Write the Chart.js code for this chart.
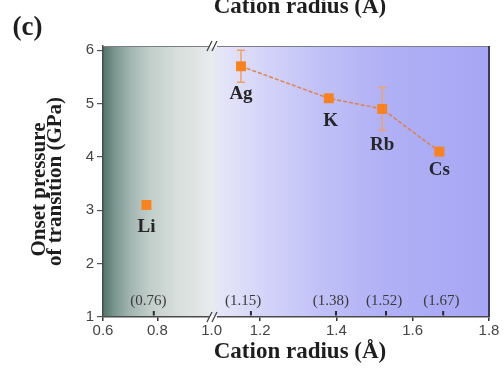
<!DOCTYPE html>
<html>
<head>
<meta charset="utf-8">
<script src="https://cdn.jsdelivr.net/npm/chart.js@4"></script>
<style>
  html, body { margin: 0; padding: 0; background: #ffffff; }
  #wrap { width: 504px; height: 369px; position: relative; }
  canvas { display: block; }
</style>
</head>
<body>
<div id="wrap"><canvas id="c" width="504" height="369"></canvas></div>
<script>
// ---------- data ----------
const elements = ['Li', 'Ag', 'K', 'Rb', 'Cs'];
const cationRadius = [0.76, 1.15, 1.38, 1.52, 1.67];
const onsetPressure = [3.1, 5.7, 5.1, 4.9, 4.1];
const pressureError = [0, 0.3, 0, 0.4, 0];
const radiusLabels = ['(0.76)', '(1.15)', '(1.38)', '(1.52)', '(1.67)'];
const radiusMarkAt = [0.787, 1.176, 1.399, 1.530, 1.680];
const xTickValues = [0.6, 0.8, 1.0, 1.2, 1.4, 1.6, 1.8];
const yTickValues = [1, 2, 3, 4, 5, 6];

// ---------- style ----------
const labelDy = [22, 28, 23, 36, 18];
const labelDx = [0, 0, 2, 0, 0];
const ORANGE = '#f7821e';

// ---------- broken x scale (0.6–1.0 | 1.073–1.8, right part stretched) ----------
const BREAK_LO = 1.0, BREAK_HI = 1.073, STRETCH = 1.405;
function toVirtual(v) { return v <= BREAK_LO ? v : BREAK_LO + (v - BREAK_HI) * STRETCH; }
function fromVirtual(u) { return u <= BREAK_LO ? u : BREAK_HI + (u - BREAK_LO) / STRETCH; }
class BrokenLinearScale extends Chart.LinearScale {
  getPixelForValue(value) {
    if (value === null || value === undefined) return NaN;
    return super.getPixelForValue(toVirtual(value));
  }
  getValueForPixel(pixel) {
    return fromVirtual(super.getValueForPixel(pixel));
  }
}
BrokenLinearScale.id = 'brokenLinear';
BrokenLinearScale.defaults = Chart.LinearScale.defaults;
Chart.register(BrokenLinearScale);

const liPoints = [{ x: cationRadius[0], y: onsetPressure[0] }];
const seriesPoints = cationRadius.slice(1).map((r, i) => ({ x: r, y: onsetPressure[i + 1] }));

const decorPlugin = {
  id: 'decor',
  beforeDraw(chart) {
    const { ctx, chartArea: a } = chart;
    const g = ctx.createLinearGradient(a.left, 0, a.right, 0);
    g.addColorStop(0.00, '#52746b');
    g.addColorStop(0.03, '#7a968f');
    g.addColorStop(0.07, '#a2b5b0');
    g.addColorStop(0.12, '#c0cdc9');
    g.addColorStop(0.19, '#d7dedc');
    g.addColorStop(0.25, '#e2e6e5');
    g.addColorStop(0.28, '#e9ebef');
    g.addColorStop(0.315, '#e3e3f8');
    g.addColorStop(0.41, '#d5d5f9');
    g.addColorStop(0.56, '#c1c1f8');
    g.addColorStop(0.72, '#b1b1f6');
    g.addColorStop(1.00, '#a6a6f4');
    ctx.save();
    ctx.fillStyle = g;
    ctx.fillRect(a.left, a.top, a.right - a.left, a.bottom - a.top);
    ctx.restore();
  },
  beforeDatasetsDraw(chart) {
    const { ctx } = chart;
    const xs = chart.scales.x, ys = chart.scales.y;
    ctx.save();
    ctx.strokeStyle = '#f2a066';
    ctx.lineWidth = 1.5;
    cationRadius.forEach((r, i) => {
      const e = pressureError[i];
      if (!e) return;
      const px = xs.getPixelForValue(r);
      const top = ys.getPixelForValue(onsetPressure[i] + e);
      const bot = ys.getPixelForValue(onsetPressure[i] - e);
      ctx.beginPath();
      ctx.moveTo(px, top); ctx.lineTo(px, bot);
      ctx.moveTo(px - 4, top); ctx.lineTo(px + 4, top);
      ctx.moveTo(px - 4, bot); ctx.lineTo(px + 4, bot);
      ctx.stroke();
    });
    ctx.restore();
  },
  afterDraw(chart) {
    const { ctx, chartArea: a } = chart;
    const xs = chart.scales.x, ys = chart.scales.y;
    ctx.save();
    // frame top / right
    ctx.strokeStyle = '#7d7d86';
    ctx.lineWidth = 1.2;
    ctx.beginPath();
    ctx.moveTo(a.left, a.top + 0.5); ctx.lineTo(a.right, a.top + 0.5);
    ctx.stroke();
    ctx.strokeStyle = '#3b3b58';
    ctx.lineWidth = 2;
    ctx.beginPath();
    ctx.moveTo(a.right, a.top); ctx.lineTo(a.right, a.bottom);
    ctx.stroke();

    // break marks "//"
    const bx = (xs.getPixelForValue(BREAK_LO) + xs.getPixelForValue(1.08)) / 2;
    [a.top, a.bottom].forEach(yy => {
      ctx.fillStyle = '#ffffff';
      ctx.fillRect(bx - 4, yy - 1.5, 8, 3);
      ctx.strokeStyle = '#444444';
      ctx.lineWidth = 1.3;
      ctx.beginPath();
      ctx.moveTo(bx - 6, yy + 5); ctx.lineTo(bx - 1, yy - 5);
      ctx.moveTo(bx - 1, yy + 5); ctx.lineTo(bx + 4, yy - 5);
      ctx.stroke();
    });

    // inner radius marks + labels
    ctx.strokeStyle = '#2a2a2a';
    ctx.lineWidth = 2;
    radiusMarkAt.forEach(r => {
      const px = xs.getPixelForValue(r);
      ctx.beginPath();
      ctx.moveTo(px, a.bottom - 6); ctx.lineTo(px, a.bottom - 1.5);
      ctx.stroke();
    });
    ctx.fillStyle = '#3a3a3a';
    ctx.font = '15px "Liberation Serif", "Times New Roman", serif';
    ctx.textAlign = 'center';
    ctx.textBaseline = 'middle';
    radiusLabels.forEach((t, i) => {
      ctx.fillText(t, xs.getPixelForValue(cationRadius[i]) + 2, a.bottom - 16);
    });

    // element labels
    ctx.fillStyle = '#262626';
    ctx.font = 'bold 19px "Liberation Serif", "Times New Roman", serif';
    elements.forEach((el, i) => {
      const px = xs.getPixelForValue(cationRadius[i]) + labelDx[i];
      const py = ys.getPixelForValue(onsetPressure[i]) + labelDy[i];
      ctx.fillText(el, px, py);
    });

    // axis titles
    ctx.fillStyle = '#1e1e1e';
    ctx.font = 'bold 23px "Liberation Serif", "Times New Roman", serif';
    ctx.textBaseline = 'alphabetic';
    const cx = (a.left + a.right) / 2 + 4;
    ctx.fillText('Cation radius (\u00C5)', cx, 358);
    ctx.fillText('Cation radius (\u00C5)', cx, 13);

    ctx.save();
    ctx.translate(0, (a.top + a.bottom) / 2);
    ctx.rotate(-Math.PI / 2);
    ctx.font = 'bold 21px "Liberation Serif", "Times New Roman", serif';
    ctx.fillText('Onset pressure', -8, 45);
    ctx.fillText('of transition (GPa)', 0, 61);
    ctx.restore();

    // panel label
    ctx.font = 'bold 27px "Liberation Serif", "Times New Roman", serif';
    ctx.textAlign = 'center';
    ctx.fillText('(c)', 27.5, 35);
    ctx.restore();
  }
};

new Chart(document.getElementById('c'), {
  type: 'scatter',
  data: {
    datasets: [
      {
        data: liPoints,
        pointStyle: 'rect',
        pointRadius: 7,
        pointBackgroundColor: ORANGE,
        pointBorderColor: ORANGE,
        pointBorderWidth: 0,
        showLine: false
      },
      {
        data: seriesPoints,
        pointStyle: 'rect',
        pointRadius: 7,
        pointBackgroundColor: ORANGE,
        pointBorderColor: ORANGE,
        pointBorderWidth: 0,
        showLine: true,
        borderColor: 'rgba(226,124,60,0.9)',
        borderWidth: 1.5,
        borderDash: [4, 2]
      }
    ]
  },
  options: {
    responsive: false,
    animation: false,
    devicePixelRatio: 1,
    layout: { padding: { left: 0, top: 46, right: 15, bottom: 0 } },
    plugins: { legend: { display: false }, tooltip: { enabled: false } },
    scales: {
      x: {
        type: 'brokenLinear',
        min: 0.6,
        max: toVirtual(1.8),
        afterBuildTicks: s => { s.ticks = xTickValues.map(v => ({ value: v })); },
        afterFit: s => { s.height = 52; },
        ticks: {
          autoSkip: false, maxRotation: 0,
          color: '#444444',
          font: { family: '"Liberation Sans", Arial, sans-serif', size: 15 },
          padding: 1,
          callback: v => Number(v).toFixed(1)
        },
        grid: {
          drawOnChartArea: false, drawTicks: true, tickLength: 4,
          tickColor: ctx => (ctx.tick && ctx.tick.value === 1.0 ? 'rgba(0,0,0,0)' : '#333333'),
          lineWidth: 1.5
        },
        border: { display: true, color: '#4a4a4a', width: 1.5 }
      },
      y: {
        min: 1,
        max: 6.08,
        afterBuildTicks: s => { s.ticks = yTickValues.map(v => ({ value: v })); },
        afterFit: s => { s.width = 103; },
        ticks: {
          color: '#444444',
          font: { family: '"Liberation Sans", Arial, sans-serif', size: 15 },
          padding: 3
        },
        grid: { drawOnChartArea: false, drawTicks: true, tickLength: 6, tickColor: '#555555', lineWidth: 1.2 },
        border: { display: true, color: '#4a4a4a', width: 1.5 }
      }
    }
  },
  plugins: [decorPlugin]
});
</script>
</body>
</html>
